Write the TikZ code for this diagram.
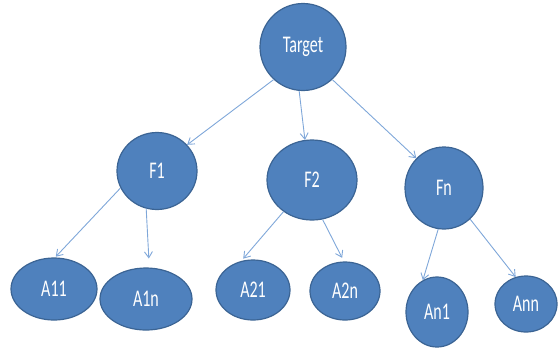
\documentclass[tikz,border=0pt]{standalone}
\usepackage{fontspec}
\setmainfont{Carlito}
\usepackage{graphicx}
\usetikzlibrary{shapes.geometric,arrows.meta}
\definecolor{nodefill}{HTML}{4F81BD}
\definecolor{nodeline}{HTML}{3B6494}
\definecolor{linkblue}{HTML}{7FA7D9}
% narrow, tall label lettering
\newcommand{\nodetext}[1]{\scalebox{0.67}[1]{\fontsize{24}{24}\selectfont #1}}
\begin{document}
\begin{tikzpicture}[x=1bp,y=-1bp,
  bubble/.style={ellipse, draw=nodeline, line width=1.2bp, fill=nodefill,
    text=white, inner sep=0pt},
  link/.style={draw=linkblue, line width=0.9bp,
    -{Straight Barb[length=6bp,width=8bp]}}]
\useasboundingbox (0,0) rectangle (558,347);

% tree nodes
\node[bubble, minimum width=86bp, minimum height=87bp] (t)   at (303,47)  {\nodetext{Target}};
\node[bubble, minimum width=80bp, minimum height=77bp] (f1)  at (157,171) {\nodetext{F1}};
\node[bubble, minimum width=90bp, minimum height=80bp] (f2)  at (312,180) {\nodetext{F2}};
\node[bubble, minimum width=78bp, minimum height=82bp] (fn)  at (444,188) {\nodetext{Fn}};
\node[bubble, minimum width=86bp, minimum height=62bp] (a11) at (54,289)  {\nodetext{A11}};
\node[bubble, minimum width=92bp, minimum height=62bp] (a1n) at (146,299) {\nodetext{A1n}};
\node[bubble, minimum width=74bp, minimum height=60bp] (a21) at (253,290) {\nodetext{A21}};
\node[bubble, minimum width=70bp, minimum height=58bp] (a2n) at (345,291) {\nodetext{A2n}};
\node[bubble, minimum width=62bp, minimum height=70bp] (an1) at (437,312) {\nodetext{An1}};
\node[bubble, minimum width=62bp, minimum height=56bp] (ann) at (526,304) {\nodetext{Ann}};

% connectors
\draw[link] (t.228) -- (f1.41);
\draw[link] (t.265) -- (f2.100);
\draw[link] (t.312) -- (fn.133);
\draw[link, shorten >=1bp] (f1.205) -- (a11.88);
\draw[link, shorten >=9bp] (f1.254) -- (a1n.84);
\draw[link, shorten >=3bp] (f2.228) -- (a21.112);
\draw[link, shorten >=4bp] (f2.285) -- (a2n.92);
\draw[link] (fn.262) -- (an1.114);
\draw[link] (fn.310) -- (ann.111);
\end{tikzpicture}
\end{document}
